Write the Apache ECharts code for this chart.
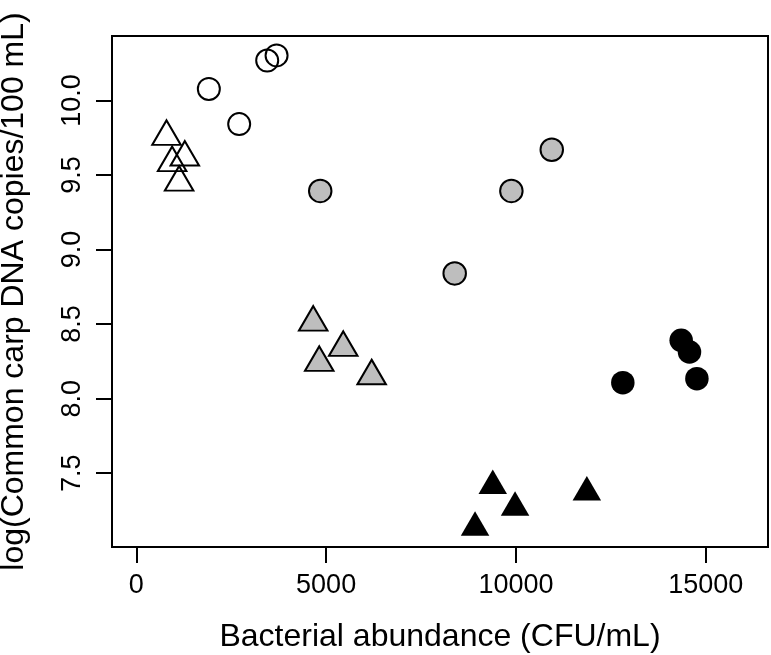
<!DOCTYPE html>
<html>
<head>
<meta charset="utf-8">
<script src="https://cdn.jsdelivr.net/npm/echarts@6/dist/echarts.min.js"></script>
<style>
html,body{margin:0;padding:0;background:#fff;}
#chart{width:771px;height:655px;}
</style>
</head>
<body>
<div id="chart"></div>
<script>
// Data (x = bacterial abundance CFU/mL, y = log copies/100 mL)
const openCircles = [[1911, 10.077], [2710, 9.841], [3448, 10.267], [3695, 10.302]];
const openTriangles = [[796, 9.757], [944, 9.581], [1278, 9.618], [1128, 9.450]];
const grayCircles = [[4845, 9.393], [10944, 9.669], [9880, 9.393], [8387, 8.840]];
const grayTriangles = [[4660, 8.511], [5451, 8.342], [4819, 8.241], [6200, 8.151]];
const blackCircles = [[14353, 8.391], [14572, 8.313], [14767, 8.134], [12816, 8.107]];
const blackTriangles = [[9390, 7.416], [9977, 7.270], [8923, 7.135], [11868, 7.372]];
const xTicks = [0, 5000, 10000, 15000];
const yTicks = [7.5, 8.0, 8.5, 9.0, 9.5, 10.0];
const xTitle = 'Bacterial abundance (CFU/mL)';
const yTitle = 'log(Common carp DNA copies/100 mL)';

const FONT = '"Liberation Sans", Arial, sans-serif';
const triStroke = [28.5, 24.5];
const triFill = [28.5, 24.5];

function series(data, symbol, size, fill, border, bw, offset) {
  return {
    type: 'scatter',
    data: data,
    symbol: symbol,
    symbolSize: size,
    symbolOffset: offset || [0, 0],
    itemStyle: { color: fill, borderColor: border, borderWidth: bw, opacity: 1 },
    emphasis: { disabled: true },
    silent: true
  };
}

const chart = echarts.init(document.getElementById('chart'), null, { renderer: 'canvas' });
chart.setOption({
  animation: false,
  backgroundColor: '#ffffff',
  textStyle: { fontFamily: FONT },
  grid: {
    left: 112, right: 3, top: 36, bottom: 108,
    containLabel: false,
    outerBoundsMode: 'none',
    show: true, borderColor: '#000', borderWidth: 2, backgroundColor: 'transparent'
  },
  xAxis: {
    type: 'value',
    min: -640, max: 16640,
    splitLine: { show: false },
    axisLine: { show: false, onZero: false },
    axisTick: { show: true, inside: false, customValues: xTicks, length: 16, lineStyle: { color: '#000', width: 2 } },
    axisLabel: { customValues: xTicks, margin: 25, fontSize: 27, color: '#000', fontFamily: FONT,
      formatter: v => String(v) },
    name: xTitle,
    nameLocation: 'middle',
    nameGap: 74,
    nameTextStyle: { fontSize: 32, color: '#000', fontFamily: FONT }
  },
  yAxis: {
    type: 'value',
    min: 7.005, max: 10.432,
    splitLine: { show: false },
    axisLine: { show: false, onZero: false },
    axisTick: { show: true, inside: false, customValues: yTicks, length: 16, lineStyle: { color: '#000', width: 2 } },
    axisLabel: {
      customValues: yTicks, rotate: 90, margin: 26, fontSize: 27, color: '#000', fontFamily: FONT,
      formatter: v => Number(v).toFixed(1)
    },
    name: yTitle,
    nameLocation: 'middle',
    nameRotate: 90,
    nameGap: 82,
    nameTextStyle: { fontSize: 32, color: '#000', fontFamily: FONT }
  },
  series: [
    series(openCircles, 'circle', 22, 'rgba(0,0,0,0)', '#000', 2),
    series(openTriangles, 'triangle', triStroke, 'rgba(0,0,0,0)', '#000', 2, [0, -triStroke[1] / 6]),
    series(grayCircles, 'circle', 22.5, '#bebebe', '#000', 2),
    series(grayTriangles, 'triangle', triStroke, '#bebebe', '#000', 2, [0, -triStroke[1] / 6]),
    series(blackCircles, 'circle', 23.5, '#000', '#000', 0),
    series(blackTriangles, 'triangle', triFill, '#000', '#000', 0, [0, -triFill[1] / 6])
  ]
});
</script>
</body>
</html>
